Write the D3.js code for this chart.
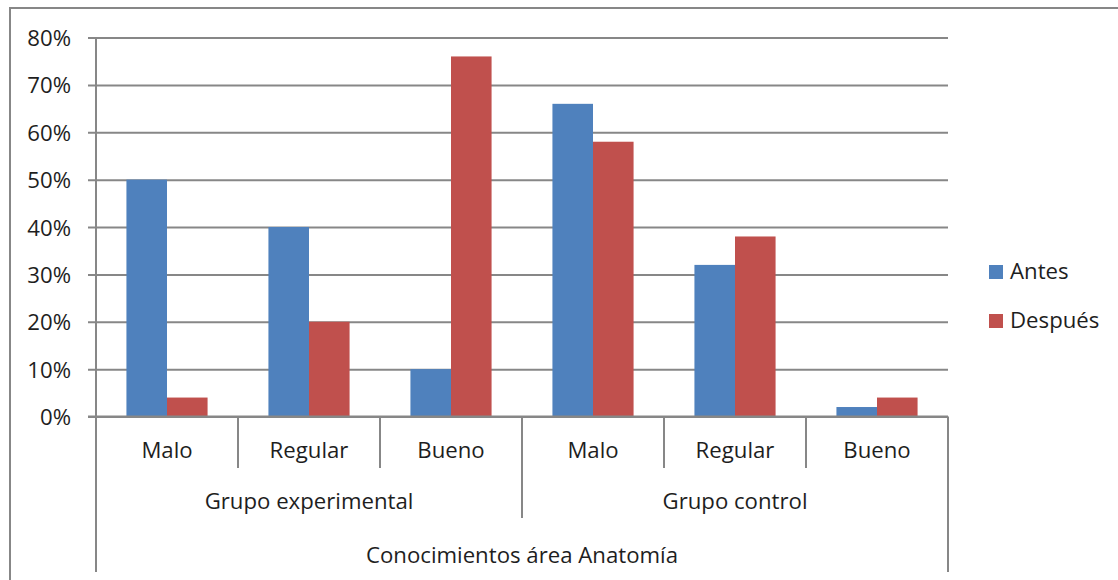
<!DOCTYPE html>
<html>
<head>
<meta charset="utf-8">
<script src="https://cdn.jsdelivr.net/npm/d3@7"></script>
<style>
  html, body { margin: 0; padding: 0; background: #fff; }
  svg text { font-family: "Open Sans", Lato, sans-serif; fill: #1e1e1e; }
</style>
</head>
<body>
<svg id="chart" width="1118" height="580"></svg>
<script>
// Knowledge levels, grouped by study group
const groups = ["Grupo experimental", "Grupo control"];
const levels = ["Malo", "Regular", "Bueno"];
const series = ["Antes", "Después"];
const antes = [0.50, 0.40, 0.10, 0.66, 0.32, 0.02];
const despues = [0.04, 0.20, 0.76, 0.58, 0.38, 0.04];
const yTicks = [0, 0.1, 0.2, 0.3, 0.4, 0.5, 0.6, 0.7, 0.8];
const axisTitle = "Conocimientos área Anatomía";
const colors = ["#4F81BD", "#C0504D"];

const rows = [];
groups.forEach((g, gi) => levels.forEach((l, li) => {
  const i = gi * levels.length + li;
  rows.push({ id: i, group: g, level: l, values: [antes[i], despues[i]] });
}));

const svg = d3.select("#chart");
const gridColor = "#878787";
const fontSize = 22.2;

const plot = { left: 96, right: 948, top: 37.5, bottom: 416.5 };

// outer frame
svg.append("rect")
  .attr("x", 10).attr("y", 8).attr("width", 1118).attr("height", 600)
  .attr("fill", "none").attr("stroke", gridColor).attr("stroke-width", 2);

const x0 = d3.scaleBand().domain(rows.map(d => d.id))
  .range([plot.left, plot.right]).paddingInner(0).paddingOuter(0);
const x1 = d3.scaleBand().domain(series)
  .range([0, x0.bandwidth()]).paddingInner(0).paddingOuter(0.75);
const y = d3.scaleLinear().domain([0, 0.8]).range([plot.bottom, plot.top]);

// horizontal gridlines with tick stubs and percent labels
const yAxis = d3.axisLeft(y).tickValues(yTicks).tickFormat(d3.format(".0%"))
  .tickSize(-(plot.right - plot.left)).tickSizeOuter(0).tickPadding(25);
const gy = svg.append("g").attr("transform", `translate(${plot.left},0)`).call(yAxis);
gy.select(".domain").remove();
gy.selectAll(".tick line").attr("stroke", gridColor).attr("stroke-width", 2)
  .attr("x1", -8);
gy.selectAll(".tick text").attr("font-size", fontSize).attr("dy", "0.36em")
  .style("font-family", "'Open Sans', sans-serif").attr("fill", "#1e1e1e");

// bars
const cat = svg.append("g").selectAll("g").data(rows).join("g")
  .attr("transform", d => `translate(${x0(d.id)},0)`);
cat.selectAll("rect").data(d => d.values.map((v, k) => ({ s: series[k], v, k })))
  .join("rect")
  .attr("x", d => x1(d.s))
  .attr("width", x1.bandwidth())
  .attr("y", d => y(d.v))
  .attr("height", d => y(0) - y(d.v))
  .attr("fill", d => colors[d.k]);

// vertical axis line and the category axis structure
const lines = svg.append("g").attr("stroke", gridColor).attr("stroke-width", 2);
lines.append("line").attr("x1", plot.left).attr("x2", plot.left)
  .attr("y1", plot.top).attr("y2", 572);
lines.append("line").attr("x1", plot.right).attr("x2", plot.right)
  .attr("y1", plot.bottom).attr("y2", 572);
lines.append("line").attr("x1", plot.left - 8).attr("x2", plot.right)
  .attr("y1", y(0)).attr("y2", y(0));
// separators between levels
rows.filter(d => d.id % levels.length !== 0).forEach(d => {
  lines.append("line").attr("x1", x0(d.id)).attr("x2", x0(d.id))
    .attr("y1", plot.bottom).attr("y2", 468);
});
// separators between groups
groups.slice(1).forEach((g, gi) => {
  const xg = x0((gi + 1) * levels.length);
  lines.append("line").attr("x1", xg).attr("x2", xg)
    .attr("y1", plot.bottom).attr("y2", 518);
});

// level labels
svg.append("g").selectAll("text").data(rows).join("text")
  .attr("x", d => x0(d.id) + x0.bandwidth() / 2)
  .attr("y", 458)
  .attr("text-anchor", "middle").attr("font-size", fontSize)
  .text(d => d.level);

// group labels
svg.append("g").selectAll("text").data(groups).join("text")
  .attr("x", (g, gi) => (x0(gi * levels.length) + x0(gi * levels.length + levels.length - 1) + x0.bandwidth()) / 2)
  .attr("y", 509)
  .attr("text-anchor", "middle").attr("font-size", fontSize)
  .text(d => d);

// axis title
svg.append("text")
  .attr("x", (plot.left + plot.right) / 2).attr("y", 563)
  .attr("text-anchor", "middle").attr("font-size", fontSize)
  .text(axisTitle);

// legend
const legend = svg.append("g").selectAll("g").data(series).join("g")
  .attr("transform", (d, i) => `translate(989,${265 + i * 49})`);
legend.append("rect").attr("width", 14).attr("height", 14)
  .attr("fill", (d, i) => colors[i]);
legend.append("text").attr("x", 21).attr("y", 14).attr("font-size", fontSize).text(d => d);
</script>
</body>
</html>
